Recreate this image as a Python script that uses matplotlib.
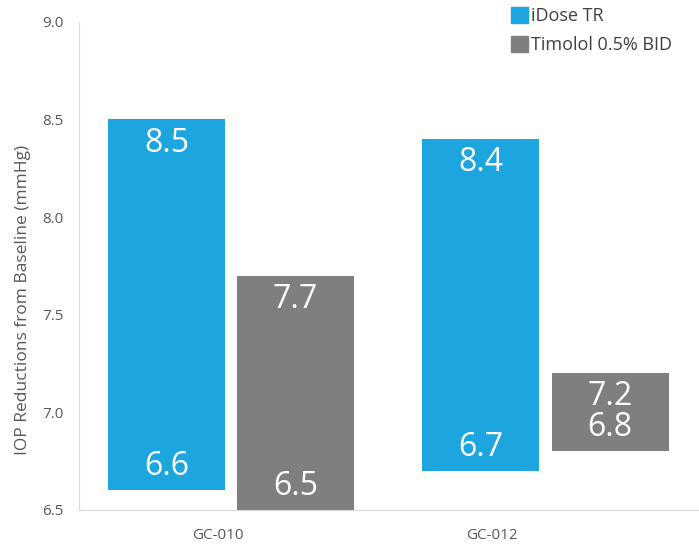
import matplotlib
matplotlib.use("Agg")
import matplotlib.pyplot as plt
from matplotlib.patches import Patch

plt.rcParams['font.family'] = ['Open Sans', 'DejaVu Sans']

studies = ['GC-010', 'GC-012']
series = ['iDose TR', 'Timolol 0.5% BID']
idose_low = [6.6, 6.7]
idose_high = [8.5, 8.4]
timolol_low = [6.5, 6.8]
timolol_high = [7.7, 7.2]

colors = ['#1da5df', '#7f7f7f']

# bar centres (in category units), bars sit a bit off the tick labels like the original
idose_x = [-0.188, 0.958]
timolol_x = [0.283, 1.431]
bar_w = 0.427

fig = plt.figure(figsize=(6.99, 5.47), dpi=100)
ax = fig.add_axes([0.113, 0.068, 0.887, 0.892])

for xs, lo, hi, c in [(idose_x, idose_low, idose_high, colors[0]),
                      (timolol_x, timolol_low, timolol_high, colors[1])]:
    heights = [h - l for l, h in zip(lo, hi)]
    ax.bar(xs, heights, bottom=lo, width=bar_w, color=c, zorder=2)
    for x, l, h in zip(xs, lo, hi):
        ax.annotate(f'{h:.1f}', (x, h), xytext=(0, -17), textcoords='offset points',
                    ha='center', va='center', color='white', fontsize=23)
        ax.annotate(f'{l:.1f}', (x, l), xytext=(0, 17), textcoords='offset points',
                    ha='center', va='center', color='white', fontsize=23)

ax.set_ylim(6.5, 9.0)
ax.set_yticks([6.5, 7.0, 7.5, 8.0, 8.5, 9.0])
ax.set_yticklabels(['6.5', '7.0', '7.5', '8.0', '8.5', '9.0'])
ax.set_xlim(-0.507, 1.755)
ax.set_xticks([0, 1])
ax.set_xticklabels(studies)

ax.tick_params(length=0, colors='#595959', labelsize=11)
ax.tick_params(axis='x', pad=13)
ax.tick_params(axis='y', pad=11)
ax.set_ylabel('IOP Reductions from Baseline (mmHg)', color='#595959', fontsize=12.5)
ax.yaxis.set_label_coords(-0.077, 0.43)

for s in ['top', 'right']:
    ax.spines[s].set_visible(False)
for s in ['left', 'bottom']:
    ax.spines[s].set_color('#d9d9d9')

handles = [Patch(color=colors[0]), Patch(color=colors[1])]
fig.legend(handles, series, loc='upper left', bbox_to_anchor=(0.731, 0.988),
           frameon=False, fontsize=13, handlelength=0.95, handleheight=1.0,
           handletextpad=0.15, labelspacing=0.6, borderpad=0, borderaxespad=0,
           labelcolor='#404040')

fig.savefig('out.png', dpi=100)
